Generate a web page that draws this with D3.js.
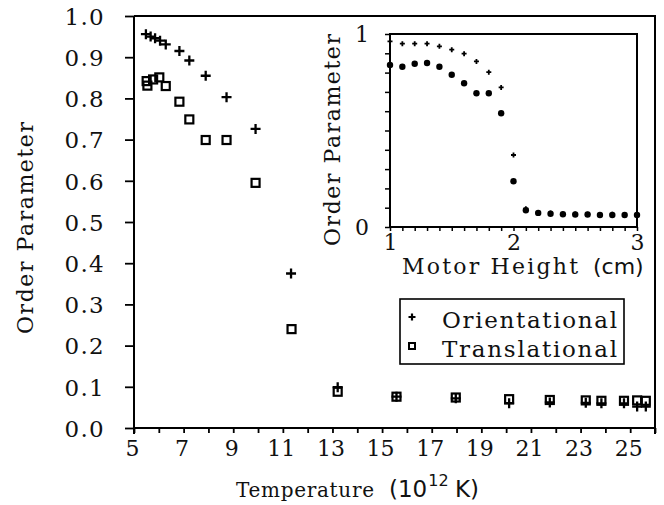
<!DOCTYPE html>
<html>
<head>
<meta charset="utf-8">
<script src="https://cdn.jsdelivr.net/npm/d3@7"></script>
<style>
  html, body { margin: 0; padding: 0; background: #fff; }
  svg { display: block; }
  text { fill: #111; }
</style>
</head>
<body>
<svg id="chart" width="664" height="505"></svg>
<script>
// ---------------- data ----------------
const orientTemps = [5.48, 5.67, 5.85, 6.05, 6.28, 6.83, 7.23, 7.89, 8.73, 9.90, 11.33, 13.21, 15.58, 17.97, 20.12, 21.76, 23.21, 23.84, 24.75, 25.28, 25.63];
const orientValues = [0.956, 0.950, 0.946, 0.940, 0.931, 0.915, 0.892, 0.855, 0.803, 0.726, 0.375, 0.099, 0.076, 0.072, 0.060, 0.062, 0.061, 0.060, 0.060, 0.052, 0.052];
const transTemps = [5.51, 5.54, 5.77, 6.02, 6.28, 6.83, 7.23, 7.89, 8.73, 9.90, 11.35, 13.21, 15.58, 17.97, 20.12, 21.76, 23.21, 23.84, 24.75, 25.28, 25.63];
const transValues = [0.842, 0.831, 0.846, 0.851, 0.830, 0.792, 0.749, 0.699, 0.699, 0.595, 0.240, 0.088, 0.076, 0.074, 0.070, 0.068, 0.067, 0.066, 0.066, 0.067, 0.066];

const motorHeights = [1.0, 1.1, 1.2, 1.3, 1.4, 1.5, 1.6, 1.7, 1.8, 1.9, 2.0, 2.1, 2.2, 2.3, 2.4, 2.5, 2.6, 2.7, 2.8, 2.9, 3.0];
const insetOrient = [0.962, 0.950, 0.950, 0.950, 0.936, 0.919, 0.898, 0.858, 0.802, 0.723, 0.373, 0.095, 0.075, 0.072, 0.066, 0.068, 0.066, 0.062, 0.066, 0.063, 0.063];
const insetTrans = [0.840, 0.830, 0.846, 0.850, 0.830, 0.789, 0.745, 0.693, 0.693, 0.589, 0.237, 0.087, 0.073, 0.069, 0.066, 0.065, 0.065, 0.062, 0.062, 0.062, 0.062];

const yTickValues = [0.0, 0.1, 0.2, 0.3, 0.4, 0.5, 0.6, 0.7, 0.8, 0.9, 1.0];
const xTickValues = [5, 6, 7, 8, 9, 10, 11, 12, 13, 14, 15, 16, 17, 18, 19, 20, 21, 22, 23, 24, 25, 26];
const xTickLabels = [5, 7, 9, 11, 13, 15, 17, 19, 21, 23, 25];
const insetXLabels = [1, 2, 3];
const insetYLabels = [0, 1];
const seriesNames = ["Orientational", "Translational"];

// ---------------- layout ----------------
const SERIF = "'DejaVu Serif', serif";
const SANS = "'DejaVu Sans', sans-serif";
const svg = d3.select("#chart");

const x = d3.scaleLinear().domain([5, 26]).range([134, 655]);
const y = d3.scaleLinear().domain([0, 1]).range([428, 16]);

// frame (top and right)
svg.append("path")
  .attr("d", `M${x(5)},${y(1)}H${x(26)}V${y(0) + 6}`)
  .attr("fill", "none").attr("stroke", "#000").attr("stroke-width", 2);

// left axis
const yAxis = d3.axisLeft(y).tickValues(yTickValues).tickSize(9).tickPadding(20).tickFormat(d3.format(".1f"));
const gy = svg.append("g").attr("transform", `translate(${x(5)},0)`).call(yAxis);
gy.select(".domain").attr("stroke-width", 2).attr("d", `M0,${y(1)}V${y(0) + 6}`);
gy.selectAll(".tick line").attr("stroke-width", 1.8);
gy.selectAll(".tick text").attr("font-family", SERIF).attr("font-size", 23).attr("letter-spacing", 1.3).attr("dy", "0.36em");

// bottom axis
const xAxis = d3.axisBottom(x).tickValues(xTickValues).tickSize(5).tickPadding(8)
  .tickFormat(d => xTickLabels.includes(d) ? d : "");
const gx = svg.append("g").attr("transform", `translate(0,${y(0)})`).call(xAxis);
gx.select(".domain").attr("stroke-width", 2).attr("d", `M${x(5)},0H${x(26)}`);
gx.selectAll(".tick line").attr("stroke-width", 1.8);
gx.selectAll(".tick text").attr("font-family", SERIF).attr("font-size", 22).attr("dx", "-2").attr("dy", "0.68em");

// axis titles
svg.append("text")
  .attr("transform", `translate(33,${228}) rotate(-90)`)
  .attr("text-anchor", "middle").attr("font-family", SERIF).attr("font-size", 22)
  .attr("textLength", 212).attr("lengthAdjust", "spacing").text("Order Parameter");

const xt = svg.append("text").attr("y", 497).attr("font-family", SERIF).attr("font-size", 20);
xt.append("tspan").attr("x", 236).attr("textLength", 138).attr("lengthAdjust", "spacing").text("Temperature");
xt.append("tspan").attr("x", 389).attr("font-family", SANS).attr("font-size", 23).text("(10");
xt.append("tspan").attr("font-family", SANS).attr("font-size", 16).attr("dy", -11).attr("dx", 1).text("12");
xt.append("tspan").attr("x", 455).attr("font-family", SANS).attr("font-size", 23).attr("dy", 11).text("K)");

// markers
function plusPath(cx, cy, r) {
  return `M${cx - r},${cy}H${cx + r}M${cx},${cy - r}V${cy + r}`;
}
const orientData = orientTemps.map((t, i) => ({ t, v: orientValues[i] }));
const transData = transTemps.map((t, i) => ({ t, v: transValues[i] }));

svg.append("g").selectAll("rect").data(transData).join("rect")
  .attr("x", d => x(d.t) - 4).attr("y", d => y(d.v) - 4)
  .attr("width", 8).attr("height", 8)
  .attr("fill", "none").attr("stroke", "#000").attr("stroke-width", 2.2);

svg.append("g").selectAll("path").data(orientData).join("path")
  .attr("d", d => plusPath(x(d.t), y(d.v), 5))
  .attr("fill", "none").attr("stroke", "#000").attr("stroke-width", 2.3);

// legend
const lg = svg.append("g");
lg.append("rect").attr("x", 400).attr("y", 299).attr("width", 224).attr("height", 65)
  .attr("fill", "#fff").attr("stroke", "#000").attr("stroke-width", 1.6);
lg.append("path").attr("d", plusPath(412, 317, 3.5)).attr("stroke", "#000").attr("stroke-width", 2.2);
lg.append("rect").attr("x", 409).attr("y", 343).attr("width", 6).attr("height", 6)
  .attr("fill", "none").attr("stroke", "#000").attr("stroke-width", 2);
lg.selectAll("text.leg").data(seriesNames).join("text").attr("class", "leg")
  .attr("x", 442).attr("y", (d, i) => 328 + i * 28.5)
  .attr("font-family", SERIF).attr("font-size", 23)
  .attr("textLength", 175).attr("lengthAdjust", "spacing")
  .text(d => d);

// ---------------- inset ----------------
const ix = d3.scaleLinear().domain([1, 3]).range([390, 637]);
const iy = d3.scaleLinear().domain([0, 1]).range([227, 34]);

svg.append("rect").attr("x", ix(1)).attr("y", iy(1)).attr("width", ix(3) - ix(1)).attr("height", iy(0) - iy(1))
  .attr("fill", "#fff").attr("stroke", "#000").attr("stroke-width", 2);

const iyAxis = d3.axisLeft(iy).ticks(10).tickSize(5).tickFormat(d => insetYLabels.includes(d) ? d : "").tickPadding(16);
const giy = svg.append("g").attr("transform", `translate(${ix(1)},0)`).call(iyAxis);
giy.select(".domain").remove();
giy.selectAll(".tick line").attr("stroke-width", 1.5);
giy.selectAll(".tick text").attr("font-family", SERIF).attr("font-size", 22).attr("dy", "0.36em");

const ixAxis = d3.axisBottom(ix).ticks(20).tickSize(4).tickFormat(d => insetXLabels.includes(d) ? d : "").tickPadding(4);
const gix = svg.append("g").attr("transform", `translate(0,${iy(0)})`).call(ixAxis);
gix.select(".domain").remove();
gix.selectAll(".tick line").attr("stroke-width", 1.5);
gix.selectAll(".tick text").attr("font-family", SERIF).attr("font-size", 22).attr("dy", "0.68em");

svg.append("text")
  .attr("transform", `translate(340,${140}) rotate(-90)`)
  .attr("text-anchor", "middle").attr("font-family", SERIF).attr("font-size", 22)
  .attr("textLength", 212).attr("lengthAdjust", "spacing").text("Order Parameter");

const it = svg.append("text").attr("y", 274).attr("font-family", SERIF).attr("font-size", 22);
it.append("tspan").attr("x", 402).attr("textLength", 176).attr("lengthAdjust", "spacing").text("Motor Height");
it.append("tspan").attr("x", 593).attr("font-family", SANS).attr("font-size", 22).text("(cm)");

const insetO = motorHeights.map((h, i) => ({ h, v: insetOrient[i] }));
const insetT = motorHeights.map((h, i) => ({ h, v: insetTrans[i] }));

svg.append("g").selectAll("circle").data(insetT).join("circle")
  .attr("cx", d => ix(d.h)).attr("cy", d => iy(d.v)).attr("r", 3.2).attr("fill", "#000");
svg.append("g").selectAll("path").data(insetO).join("path")
  .attr("d", d => plusPath(ix(d.h), iy(d.v), 2.5))
  .attr("fill", "none").attr("stroke", "#000").attr("stroke-width", 1.8);
</script>
</body>
</html>
